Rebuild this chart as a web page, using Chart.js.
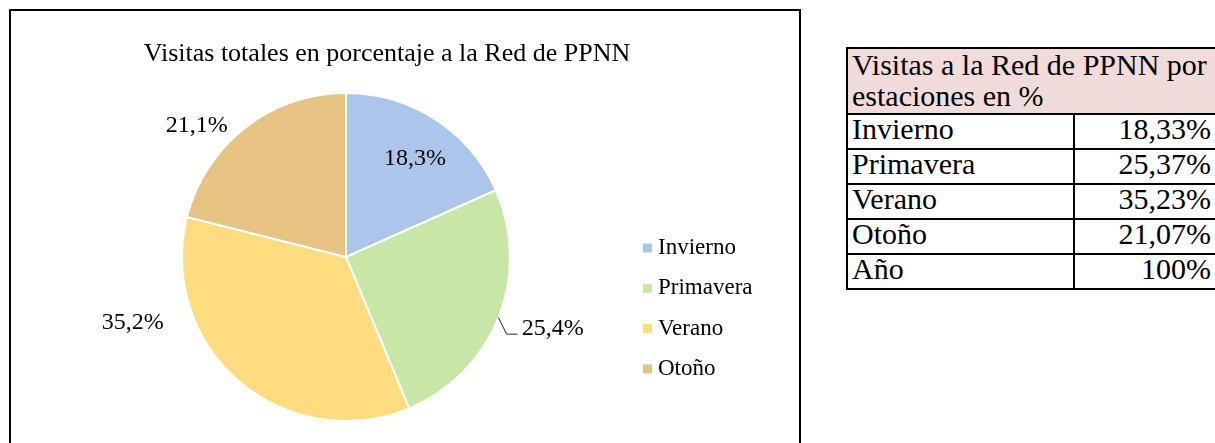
<!DOCTYPE html>
<html>
<head>
<meta charset="utf-8">
<script src="https://cdn.jsdelivr.net/npm/chart.js@4.4.0/dist/chart.umd.min.js"></script>
<style>
    body {
        margin: 0;
        width: 1215px;
        height: 443px;
        overflow: hidden;
        background: #fff;
        font-family: "Liberation Serif", serif;
    }
    #marco {
        position: absolute;
        left: 9px;
        top: 9px;
        width: 788px;
        height: 460px;
        border: 2px solid #000;
    }
    #lienzo {
        position: absolute;
        left: 11px;
        top: 11px;
        width: 752px;
        height: 432px;
    }
    #tabla {
        position: absolute;
        left: 846px;
        top: 47px;
        width: 376px;
        border-collapse: collapse;
        font-size: 30px;
        color: #000;
    }
    #tabla td {
        border: 2px solid #000;
        padding: 0 5px 5px 4px;
        line-height: 28px;
        white-space: nowrap;
    }
    #tabla td.cab {
        background: #f2dcdb;
        line-height: 31px;
        padding-bottom: 2px;
    }
    #tabla td.num {
        text-align: right;
        padding-right: 9px;
    }
</style>
</head>
<body>
<div id="marco"></div>
<div id="lienzo"><canvas id="myChart"></canvas></div>
<table id="tabla">
    <colgroup><col style="width:227px"><col></colgroup>
    <tbody id="cuerpo"></tbody>
</table>

<script>
// Datos
const estaciones = ['Invierno', 'Primavera', 'Verano', 'Otoño'];
const porcentajes = [18.33, 25.37, 35.23, 21.07];
const colores = ['#abc6ea', '#c8e6a6', '#ffdc80', '#e7c383'];
const titulo = 'Visitas totales en porcentaje a la Red de PPNN';
const cabeceraTabla = ['Visitas a la Red de PPNN por', 'estaciones en %'];
const filaTotal = 'Año';

// Posicion de cada etiqueta (en radios, desde el centro) y linea guia
const posEtiquetas = [[0.42, -0.60], [1.26, 0.44], [-1.30, 0.40], [-0.91, -0.80]];
const lineaGuia = [false, true, false, false];

function coma(v, dec) {
    return v.toFixed(dec).replace('.', ',') + '%';
}

// Tabla
const cuerpo = document.getElementById('cuerpo');
cuerpo.innerHTML = `<tr><td class="cab" colspan="2">${cabeceraTabla.join('<br>')}</td></tr>`;
estaciones.forEach((e, i) => {
    cuerpo.innerHTML += `<tr><td>${e}</td><td class="num">${coma(porcentajes[i], 2)}</td></tr>`;
});
const total = porcentajes.reduce((a, b) => a + b, 0);
cuerpo.innerHTML += `<tr><td>${filaTotal}</td><td class="num">${Math.round(total)}%</td></tr>`;

// Titulo (centrado en el lienzo, no en el area del grafico)
const tituloPlugin = {
    id: 'titulo',
    afterDraw(chart) {
        const ctx = chart.ctx;
        ctx.save();
        ctx.font = '26px "Liberation Serif"';
        ctx.fillStyle = '#000';
        ctx.textAlign = 'center';
        ctx.textBaseline = 'alphabetic';
        ctx.fillText(titulo, chart.width / 2, 50);
        ctx.restore();
    }
};

// Etiquetas de porcentaje
const etiquetasPlugin = {
    id: 'etiquetas',
    afterDatasetsDraw(chart) {
        const ctx = chart.ctx;
        const meta = chart.getDatasetMeta(0);
        ctx.save();
        ctx.font = '24px "Liberation Serif"';
        ctx.fillStyle = '#000';
        ctx.textAlign = 'center';
        ctx.textBaseline = 'middle';
        meta.data.forEach((arc, i) => {
            const r = arc.outerRadius;
            const x = arc.x + posEtiquetas[i][0] * r;
            const y = arc.y + posEtiquetas[i][1] * r;
            const texto = coma(porcentajes[i], 1);
            ctx.fillText(texto, x, y);
            if (lineaGuia[i]) {
                const w = ctx.measureText(texto).width;
                const medio = (arc.startAngle + arc.endAngle) / 2;
                const izq = x - w / 2;
                ctx.strokeStyle = '#262626';
                ctx.lineWidth = 1;
                ctx.beginPath();
                ctx.moveTo(arc.x + r * Math.cos(medio), arc.y + r * Math.sin(medio));
                ctx.lineTo(izq - 15, y + 5);
                ctx.lineTo(izq - 4, y + 5);
                ctx.stroke();
            }
        });
        ctx.restore();
    }
};

// Leyenda
const leyendaPlugin = {
    id: 'leyenda',
    afterDraw(chart) {
        const ctx = chart.ctx;
        const x0 = 632, y0 = 237, paso = 40.3;
        ctx.save();
        ctx.font = '23px "Liberation Serif"';
        ctx.textBaseline = 'middle';
        ctx.textAlign = 'left';
        estaciones.forEach((e, i) => {
            const y = y0 + i * paso;
            ctx.fillStyle = colores[i];
            ctx.fillRect(x0, y - 4.5, 9, 9);
            ctx.fillStyle = '#000';
            ctx.fillText(e, x0 + 15, y);
        });
        ctx.restore();
    }
};

// Chart
const ctx = document.getElementById('myChart');

const myChart = new Chart(ctx, {
    type: 'pie',
    data: {
        labels: estaciones,
        datasets: [{
            data: porcentajes,
            backgroundColor: colores,
            borderColor: '#fff',
            borderWidth: 2
        }]
    },
    options: {
        responsive: true,
        maintainAspectRatio: false,
        animation: false,
        layout: { padding: { left: 0, right: 82, top: 81, bottom: 21 } },
        plugins: {
            legend: { display: false },
            tooltip: { enabled: false },
            title: { display: false }
        }
    },
    plugins: [tituloPlugin, etiquetasPlugin, leyendaPlugin]
});
</script>
</body>
</html>
